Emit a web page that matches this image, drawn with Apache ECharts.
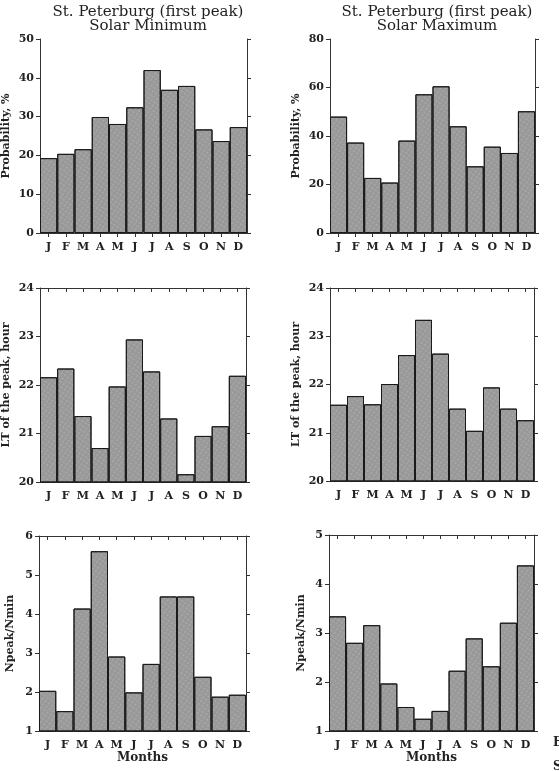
<!DOCTYPE html>
<html>
<head>
<meta charset="utf-8">
<script src="https://cdn.jsdelivr.net/npm/echarts@6/dist/echarts.min.js"></script>
<style>
  html, body { margin: 0; padding: 0; background: #fff; }
  #chart { width: 559px; height: 771px; }
</style>
</head>
<body>
<div id="chart"></div>
<script>
// months on the x axis
var months = ["J", "F", "M", "A", "M", "J", "J", "A", "S", "O", "N", "D"];

// probability of the first peak, %
var probMin = [19.3, 20.4, 21.6, 29.9, 28.1, 32.4, 42.0, 36.9, 37.9, 26.7, 23.7, 27.3];
var probMax = [48.0, 37.3, 22.7, 20.8, 38.1, 57.2, 60.5, 44.0, 27.5, 35.6, 33.0, 50.2];

// local time of the peak, hour
var ltMin = [22.16, 22.34, 21.36, 20.70, 21.97, 22.94, 22.28, 21.31, 20.16, 20.95, 21.15, 22.19];
var ltMax = [21.58, 21.76, 21.59, 22.01, 22.61, 23.34, 22.64, 21.50, 21.04, 21.94, 21.50, 21.26];

// Npeak / Nmin ratio
var ratioMin = [2.03, 1.51, 4.14, 5.61, 2.91, 1.99, 2.72, 4.45, 4.45, 2.39, 1.88, 1.93];
var ratioMax = [3.34, 2.80, 3.16, 1.97, 1.49, 1.25, 1.41, 2.23, 2.89, 2.32, 3.21, 4.38];

// y axis ranges: [min, max, interval]
var probMinRange = [0, 50, 10];
var probMaxRange = [0, 80, 20];
var ltRange = [20, 24, 1];
var ratioMinRange = [1, 6, 1];
var ratioMaxRange = [1, 5, 1];

var serif = "DejaVu Serif";
var lineColor = "#333";

// one entry per panel
var panels = [
  { data: probMin, range: probMinRange, name: "Probability, %", left: 40, width: 207, top: 39, height: 194, gap: 28 },
  { data: probMax, range: probMaxRange, name: "Probability, %", left: 330, width: 205, top: 39, height: 194, gap: 28 },
  { data: ltMin, range: ltRange, name: "LT of the peak, hour", left: 40, width: 206, top: 288, height: 194, gap: 28 },
  { data: ltMax, range: ltRange, name: "LT of the peak, hour", left: 330, width: 204, top: 288, height: 193, gap: 28 },
  { data: ratioMin, range: ratioMinRange, name: "Npeak/Nmin", left: 39, width: 207, top: 536, height: 195, gap: 23, months: true },
  { data: ratioMax, range: ratioMaxRange, name: "Npeak/Nmin", left: 329, width: 205, top: 535, height: 196, gap: 22, months: true },
];

var grid = [], xAxis = [], yAxis = [], series = [];

panels.forEach(function (p, i) {
  grid.push({ left: p.left, top: p.top, width: p.width, height: p.height });

  // bottom axis with month letters
  xAxis.push({
    type: "category",
    gridIndex: i,
    data: months,
    position: "bottom",
    axisLine: { lineStyle: { color: lineColor, width: 1 } },
    axisTick: { show: false },
    axisLabel: { color: "#222", fontFamily: serif, fontWeight: "bold", fontSize: 11, margin: 9 },
    name: p.months ? "Months" : "",
    nameLocation: "middle",
    nameGap: 21,
    nameTextStyle: { color: "#222", fontFamily: serif, fontWeight: "bold", fontSize: 12 },
  });
  // top frame line, ticks pointing in at every month
  xAxis.push({
    type: "category",
    gridIndex: i,
    data: months,
    position: "top",
    axisLine: { lineStyle: { color: lineColor, width: 1 } },
    axisTick: { show: true, inside: true, alignWithLabel: true, length: 4, lineStyle: { color: lineColor } },
    axisLabel: { show: false },
  });

  // left value axis
  yAxis.push({
    type: "value",
    gridIndex: i,
    min: p.range[0],
    max: p.range[1],
    interval: p.range[2],
    position: "left",
    splitLine: { show: false },
    axisLine: { show: true, lineStyle: { color: lineColor, width: 1 } },
    axisTick: { show: true, length: 4, lineStyle: { color: lineColor } },
    axisLabel: { color: "#222", fontFamily: serif, fontWeight: "bold", fontSize: 11, margin: 6 },
    name: p.name,
    nameLocation: "middle",
    nameGap: p.gap,
    nameTextStyle: { color: "#222", fontFamily: serif, fontWeight: "bold", fontSize: 11 },
  });
  // right frame line with outward ticks
  yAxis.push({
    type: "value",
    gridIndex: i,
    min: p.range[0],
    max: p.range[1],
    interval: p.range[2],
    position: "right",
    splitLine: { show: false },
    axisLine: { show: true, lineStyle: { color: lineColor, width: 1 } },
    axisTick: { show: true, length: 4, lineStyle: { color: lineColor } },
    axisLabel: { show: false },
  });

  series.push({
    type: "bar",
    xAxisIndex: i * 2,
    yAxisIndex: i * 2,
    data: p.data,
    barCategoryGap: 0,
    itemStyle: {
      color: "#999999",
      borderColor: "#1a1a1a",
      borderWidth: 1,
      decal: {
        symbol: "circle",
        symbolSize: 0.8,
        color: "rgba(255,255,255,0.28)",
        dashArrayX: [3, 1],
        dashArrayY: [2, 2],
        rotation: 0.6,
      },
    },
    emphasis: { disabled: true },
    animation: false,
  });
});

var titleStyle = { color: "#222", fontFamily: serif, fontWeight: "normal", fontSize: 15, lineHeight: 14 };

var option = {
  backgroundColor: "#fff",
  title: [
    { text: "St. Peterburg (first peak)\nSolar Minimum", left: 143, top: 0, textAlign: "center", textStyle: titleStyle },
    { text: "St. Peterburg (first peak)\nSolar Maximum", left: 432, top: 0, textAlign: "center", textStyle: titleStyle },
  ],
  grid: grid,
  xAxis: xAxis,
  yAxis: yAxis,
  series: series,
  // letters cut off at the right edge of the page
  graphic: [
    { type: "text", left: 553, top: 737, style: { text: "E", font: "bold 12px " + serif, fill: "#222" } },
    { type: "text", left: 553, top: 761, style: { text: "S", font: "bold 12px " + serif, fill: "#222" } },
  ],
};

var myChart = echarts.init(document.getElementById("chart"));
myChart.setOption(option);
</script>
</body>
</html>
